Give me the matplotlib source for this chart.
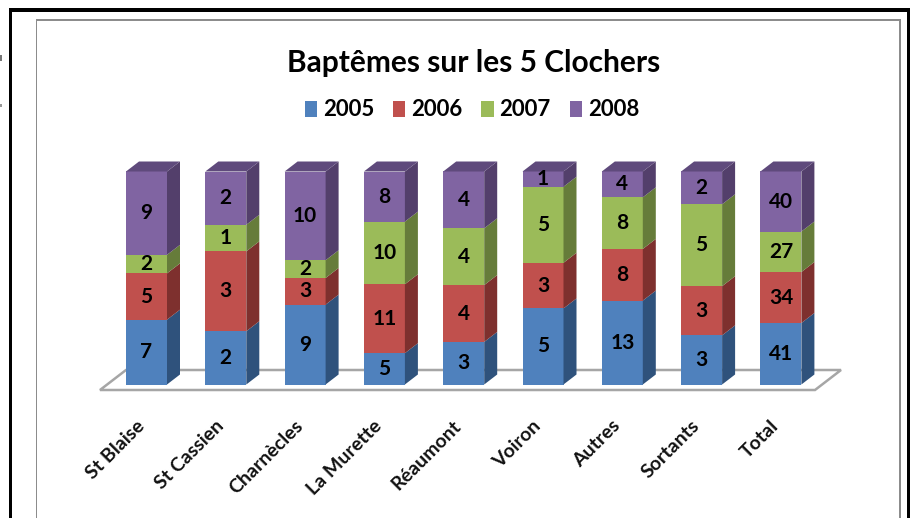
import numpy as np
import matplotlib
matplotlib.use('Agg')
import matplotlib.pyplot as plt
from matplotlib.patches import Rectangle, Patch
from matplotlib.transforms import ScaledTranslation

plt.rcParams['font.family'] = ['Lato', 'DejaVu Sans']

# Data
categories = ['St Blaise', 'St Cassien', 'Charnècles', 'La Murette', 'Réaumont',
              'Voiron', 'Autres', 'Sortants', 'Total']
v2005 = [7, 2, 9, 5, 3, 5, 13, 3, 41]
v2006 = [5, 3, 3, 11, 4, 3, 8, 3, 34]
v2007 = [2, 1, 2, 10, 4, 5, 8, 5, 27]
v2008 = [9, 2, 10, 8, 4, 1, 4, 2, 40]
years = ['2005', '2006', '2007', '2008']

front_colors = ['#4F81BD', '#C0504D', '#9BBB59', '#8064A2']
side_colors = ['#2F527C', '#7E302E', '#667C3A', '#533F6B']
top_color = '#5F4A7C'

W, H = 910, 518
fig = plt.figure(figsize=(W / 100, H / 100), dpi=100, facecolor='white')


def px_rect(x0, y0, x1, y1, **kw):
    # rectangle given in image pixels (y down)
    fig.add_artist(Rectangle((x0 / W, 1 - y1 / H), (x1 - x0) / W, (y1 - y0) / H,
                             transform=fig.transFigure, **kw))


# outer black frame, open at the bottom, and the grey chart border inside
px_rect(9, 8, 911, 11.5, color='black', lw=0)
px_rect(9, 8, 12, 518, color='black', lw=0)
px_rect(907, 8, 911, 518, color='black', lw=0)
px_rect(35.5, 19, 37, 518, color='#8C8C8C', lw=0)
px_rect(35.5, 19, 900, 20.5, color='#8C8C8C', lw=0)
px_rect(899, 19, 900.5, 518, color='#8C8C8C', lw=0)
# specks left of the frame
px_rect(0, 55, 2, 61, color='#777777', lw=0)
px_rect(0, 104, 2, 107, color='#999999', lw=0)

# axes: x is category index, y is share of the stack
step = 79.3
x0_px = 146.5
y0_px = 384.5
h_px = 213.0
left = x0_px - 0.6 * step
right = x0_px + 8.6 * step
bottom = y0_px + 6
top = y0_px - h_px - 12
ax = fig.add_axes([left / W, 1 - bottom / H, (right - left) / W, (bottom - top) / H])
ax.set_xlim(-0.6, 8.6)
ax.set_ylim(-6 / h_px, 1 + 12 / h_px)
ax.patch.set_alpha(0)
for s in ax.spines.values():
    s.set_visible(False)
ax.set_yticks([])

bar_w = 41 / step
dx = 13 / step
dy = 10 / h_px

# floor of the 3D chart
fx = 26 / step
fy = 20 / h_px
f_left = (100 - x0_px) / step
f_right = (815 - x0_px) / step
f_y = -5.5 / h_px
ax.fill([f_left, f_right, f_right + fx, f_left + fx, f_left],
        [f_y, f_y, f_y + fy, f_y + fy, f_y],
        facecolor='white', edgecolor='#A6A6A6', lw=1.8, zorder=1, clip_on=False)

values = np.array([v2005, v2006, v2007, v2008], dtype=float)
totals = values.sum(axis=0)
shares = values / totals
x = np.arange(len(categories))

base = np.zeros(len(categories))
for k in range(4):
    ax.bar(x, shares[k], bottom=base, width=bar_w, color=front_colors[k], zorder=3)
    for i in x:
        xr = i + bar_w / 2
        b = base[i]
        t = base[i] + shares[k][i]
        ax.fill([xr, xr + dx, xr + dx, xr], [b, b + dy, t + dy, t],
                color=side_colors[k], lw=0, zorder=3, clip_on=False)
        ax.text(i, (b + t) / 2, f'{int(values[k][i])}', ha='center', va='center',
                fontsize=15, fontweight='bold', color='black', zorder=5)
    base = base + shares[k]

# top faces
for i in x:
    xl = i - bar_w / 2
    xr = i + bar_w / 2
    ax.fill([xl, xr, xr + dx, xl + dx], [1, 1, 1 + dy, 1 + dy],
            color=top_color, lw=0, zorder=3, clip_on=False)

ax.set_xticks(x)
ax.set_xticklabels(categories, rotation=45, ha='right', rotation_mode='anchor',
                   fontsize=14, fontweight='bold', color='#111111')
ax.tick_params(axis='x', length=0, pad=19)
shift = ScaledTranslation(-11 / 100, 0, fig.dpi_scale_trans)
for lab in ax.get_xticklabels():
    lab.set_transform(lab.get_transform() + shift)

fig.text(474 / W, 1 - 63 / H, 'Baptêmes sur les 5 Clochers', ha='center', va='center',
         fontsize=21.5, fontweight='bold', color='black')

handles = [Patch(facecolor=c, label=y) for c, y in zip(front_colors, years)]
fig.legend(handles=handles, ncol=4, loc='center', bbox_to_anchor=(472 / W, 1 - 110 / H),
           frameon=False, handlelength=0.55, handleheight=0.75,
           handletextpad=0.27, columnspacing=0.85, prop={'weight': 'bold', 'size': 16})

fig.savefig('out.png', dpi=100, facecolor='white')
